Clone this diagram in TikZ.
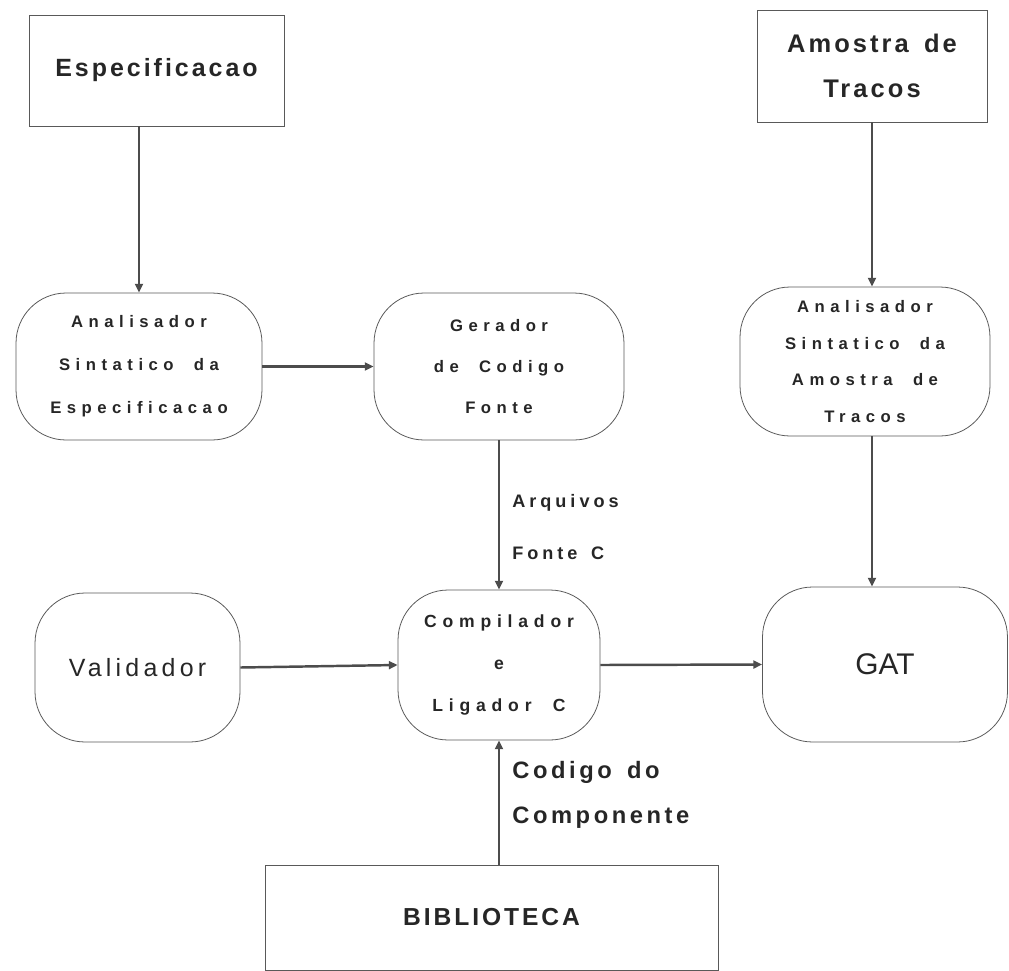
\documentclass[tikz,border=0pt]{standalone}
\usepackage{fontspec}
\setmainfont{Liberation Sans}[BoldFont = Liberation Sans Bold]
\newfontfamily\fwide[LetterSpace=33, WordSpace=2]{Liberation Sans Bold}
\newfontfamily\flbl[LetterSpace=22, WordSpace=1.5]{Liberation Sans Bold}
\newfontfamily\fmid[LetterSpace=15, WordSpace=1.5]{Liberation Sans Bold}
\newfontfamily\fbig[LetterSpace=12, WordSpace=1.5]{Liberation Sans Bold}
\newfontfamily\fthin[LetterSpace=17]{Liberation Sans}
\usetikzlibrary{arrows.meta}

\tikzset{
    box/.style = {draw = black!65, line width = .45pt, rectangle, align = center, text = black!85},
    blob/.style = {draw = black!65, line width = .45pt, rectangle, rounded corners = 1cm, align = center, text = black!85, inner sep = 0pt},
    arr/.style = {draw = black!70, line width = 1.4pt, -{Triangle[length = 5pt, width = 4.5pt]}},
    lbl/.style = {align = left, anchor = west, text = black!85, inner sep = 0pt}
}

\begin{document}
\begin{tikzpicture}[x = 0.02cm, y = -0.02cm]
        \useasboundingbox (0,0) rectangle (1009,971);

        % caixas de entrada
        \node[box, minimum width = 5.1cm, minimum height = 2.22cm, font = \fontsize{14.2}{20}\fbig] (espec) at (156.5,70.5) {Especificacao};
        \node[box, minimum width = 4.6cm, minimum height = 2.24cm, font = \fontsize{14.5}{25.5}\fbig] (amostra) at (872,66) {Amostra de\\Tracos};
        \node[box, minimum width = 9.06cm, minimum height = 2.1cm, font = \fontsize{14}{20}\fbig] (biblio) at (491.5,917.5) {BIBLIOTECA};

        % processos
        \node[blob, minimum width = 4.92cm, minimum height = 2.94cm, font = \fontsize{9.5}{24.5}\fwide] (anal1) at (139,366.5) {Analisador\\Sintatico da\\Especificacao};
        \node[blob, minimum width = 5.0cm, minimum height = 2.94cm, font = \fontsize{9.5}{23.5}\fwide] (gerador) at (499,366.5) {Gerador\\de Codigo\\Fonte};
        \node[blob, minimum width = 5.0cm, minimum height = 2.98cm, font = \fontsize{9.5}{21}\fwide] (anal2) at (865,361.5) {Analisador\\Sintatico da\\Amostra de\\Tracos};
        \node[blob, minimum width = 4.1cm, minimum height = 2.98cm, font = \fontsize{14.2}{20}\fthin] (valid) at (137.5,667.5) {Validador};
        \node[blob, minimum width = 4.04cm, minimum height = 3.0cm, font = \fontsize{10}{24}\fwide] (comp) at (499,665) {Compilador\\e\\Ligador C};
        \node[blob, minimum width = 4.9cm, minimum height = 3.1cm, font = \fontsize{17}{20}\selectfont] (gat) at (885,664.5) {GAT};

        % rotulos
        \node[lbl, font = \fontsize{10.3}{30}\flbl] (arq) at (512,527) {Arquivos\\Fonte C};
        \node[lbl, font = \fontsize{13.5}{25.5}\fmid] (cod) at (512,795) {Codigo do\\Componente};

        % ligacoes
        \draw[arr] (espec.south -| anal1.north) -- (anal1.north);
        \draw[arr] (amostra.south) -- (anal2.north -| amostra.south);
        \draw[arr] (anal2.south -| amostra.south) -- (gat.north -| amostra.south);
        \draw[arr] (anal1.east) -- (gerador.west);
        \draw[arr] (gerador.south) -- (comp.north);
        \draw[arr] (valid.east) -- (comp.west);
        \draw[arr] (comp.east) -- (gat.west);
        \draw[arr] (biblio.north -| comp.south) -- (comp.south);
\end{tikzpicture}
\end{document}
